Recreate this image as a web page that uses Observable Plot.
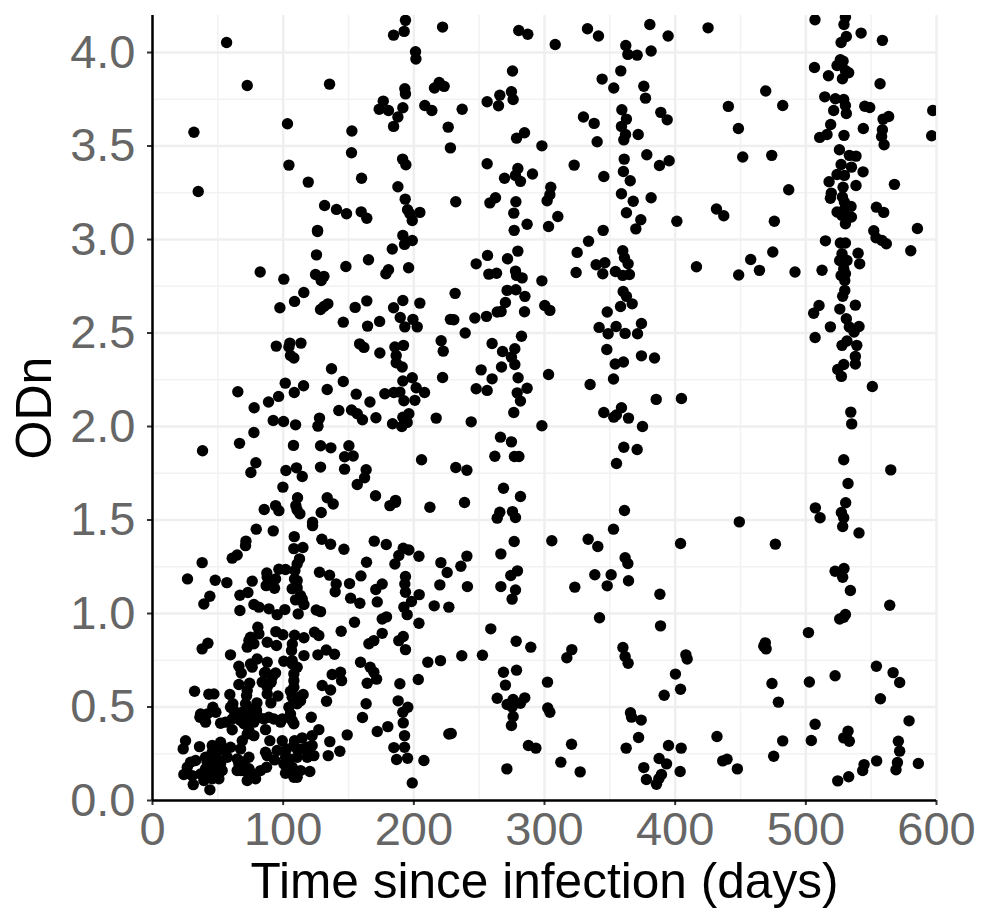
<!DOCTYPE html>
<html><head><meta charset="utf-8">
<script src="https://cdn.jsdelivr.net/npm/d3@7"></script>
<script src="https://cdn.jsdelivr.net/npm/@observablehq/plot@0.6"></script>
<style>html,body{margin:0;padding:0;background:#fff}svg{display:block}</style>
</head><body><div id="chart"></div>
<script>
const xMajor=[0,100,200,300,400,500,600];
const xMinor=[50,150,250,350,450,550];
const yMajor=[0,0.5,1,1.5,2,2.5,3,3.5,4];
const yMinor=[0.25,0.75,1.25,1.75,2.25,2.75,3.25,3.75];
const xTitle="Time since infection (days)";
const yTitle="ODn";

const earlyHigh=[[56.7,4.054],[72.5,3.824],[31.7,3.574],[35,3.257],[103.3,3.619],[104.4,3.398],[119.2,3.307],[135.5,3.831],[152.6,3.58],[152.3,3.464],[160,3.328],[131.7,3.182],[140.8,3.161],[148.5,3.138],[159.7,3.148],[164,3.114],[126.3,3.049],[187.8,3.282],[193.4,3.216],[195.2,3.159],[197,3.138],[198.8,3.102],[204.6,3.145],[191.4,3.43],[193.9,3.4],[184.5,3.605],[187.8,3.655],[191.6,3.705],[193.1,3.806],[193.6,3.779],[176.6,3.74],[173.5,3.697],[180.6,3.69],[208.4,3.717],[213.8,3.69],[215.8,3.81],[219.4,3.84],[223.2,3.819],[201.3,4.004],[201.6,3.965],[184.5,4.093],[192.6,4.113],[193.6,4.172],[222,4.136],[226.3,3.601],[228,3.49]];

const earlyMid=[[126.3,3.043],[125.5,2.918],[82.4,2.826],[100.5,2.788],[124.8,2.813],[129.1,2.781],[131.2,2.803],[148,2.856],[165.3,2.892],[191.6,3.022],[198.8,2.995],[192.9,2.974],[183.5,2.949],[178.6,2.817],[180.6,2.838],[196,2.849],[115.8,2.717],[108.7,2.669],[97.5,2.635],[128.6,2.626],[131.2,2.642],[134.2,2.656],[155.1,2.637],[164,2.672],[146,2.558],[164.6,2.537],[173.8,2.562],[191.6,2.674],[204.6,2.66],[184.5,2.635],[189.6,2.583],[199.3,2.573],[193.1,2.533],[202.6,2.533],[228,2.573],[94.7,2.43],[105.1,2.446],[113.6,2.446],[104.4,2.425],[105.6,2.38],[108.2,2.366],[158.5,2.442],[161.8,2.423],[174,2.393],[185.5,2.425],[192.1,2.434],[186.5,2.38],[186.5,2.341],[191.1,2.318],[220.9,2.459],[222.5,2.403],[222,2.262],[137,2.309],[146,2.241],[101.6,2.232],[115.6,2.218],[65.3,2.186],[108.5,2.182],[133.7,2.198],[96.5,2.161],[88.8,2.131],[77.8,2.1],[155.9,2.173],[166.4,2.131],[177.8,2.175],[184.7,2.182],[189.3,2.184],[191.6,2.243],[198.8,2.261],[201.8,2.207],[208.2,2.182],[192.4,2.138],[200.8,2.14],[142.6,2.086],[152.3,2.088],[156.7,2.068],[160.7,2.036],[171,2.047],[127.8,2.045],[126.6,2.002],[92.4,2.032],[100.3,2.027],[109.5,2.009],[183.7,2.015],[190.8,2],[191.6,2.05],[196.2,2.068],[194.9,2.022],[217.1,2.045],[77.6,1.968],[66.6,1.91],[38.3,1.87],[107.9,1.899],[128.6,1.897],[136.5,1.886],[150.3,1.897],[147,1.838],[153.6,1.842],[205.9,1.822],[79.1,1.806],[75.3,1.754],[102.1,1.765],[110.2,1.779],[114.6,1.733],[128.6,1.783],[147,1.772],[163.5,1.769],[162.3,1.726],[156.7,1.69],[99.8,1.676],[111,1.619],[170.7,1.63],[186,1.605],[133.7,1.619]];

const earlyLow=[[85.5,1.556],[94.2,1.577],[96.7,1.55],[109.7,1.577],[110.7,1.554],[112.8,1.533],[129.1,1.54],[138.3,1.586],[181.7,1.577],[186,1.595],[212.3,1.568],[122.5,1.488],[122.5,1.47],[79.4,1.451],[92.4,1.442],[108.5,1.411],[129.6,1.397],[136.3,1.37],[146.5,1.344],[169.7,1.387],[178.9,1.369],[71.5,1.387],[71.2,1.363],[64.8,1.313],[61,1.296],[38,1.272],[108.2,1.347],[115.1,1.353],[112.5,1.292],[110.7,1.265],[26.8,1.185],[48,1.178],[56.9,1.165],[76.3,1.173],[87.5,1.217],[96.7,1.237],[101.8,1.235],[109,1.23],[87,1.149],[93.4,1.135],[94.2,1.185],[108.7,1.185],[106.9,1.132],[110.7,1.137],[127.8,1.221],[135.5,1.205],[140.6,1.158],[139.8,1.116],[150.8,1.16],[159.5,1.201],[163.8,1.274],[170.9,1.128],[175.8,1.158],[151.6,1.082],[158.7,1.055],[172,1.062],[185.5,1.265],[188.5,1.31],[191.9,1.349],[196.2,1.34],[203.9,1.306],[220.7,1.272],[225.5,1.219],[219.9,1.153],[193.6,1.198],[193.1,1.158],[193.6,1.114],[204.1,1.101],[198.2,1.064],[192.4,1.034],[194.9,0.994],[215.6,1.041],[226.8,1.034],[43.9,1.092],[39.3,1.051],[66.9,1.098],[73,1.112],[66.9,1.016],[77.6,1.048],[81.4,1.034],[89.1,1.025],[95.4,0.994],[101.3,1.021],[111.5,0.998],[109.5,1.073],[114.6,1.078],[115.9,1.048],[125.3,1.019],[128.6,1.01],[154.6,0.953],[175.8,0.971],[179.1,0.982],[203.9,0.948],[144.4,0.905],[80.6,0.927],[81.4,0.891],[94.4,0.903],[99.8,0.886],[108.7,0.884],[115.9,0.87],[124,0.9],[127.3,0.882],[175.8,0.894],[169.4,0.855],[165.6,0.838],[191.9,0.877],[188.5,0.855],[193.6,0.807],[42.4,0.841],[38,0.811],[73.8,0.855],[77.6,0.838],[72.5,0.82],[87.8,0.846],[94.9,0.829],[107,0.837],[106.4,0.802],[59.7,0.779],[115.9,0.775],[133,0.805],[126.6,0.779],[139.3,0.782],[159.2,0.739],[166.6,0.713],[169.4,0.686],[171.5,0.649],[164.3,0.627],[189.3,0.624],[203.4,0.647],[210.7,0.739],[220.4,0.748],[80.1,0.757],[75,0.73],[87.8,0.739],[66.1,0.718],[67.9,0.682],[76.3,0.713],[100.5,0.745],[106.9,0.748],[110.7,0.713],[108.2,0.677],[85.7,0.682],[94.2,0.682],[84,0.633],[90.8,0.633],[66.1,0.62],[74.3,0.627],[108.2,0.641],[137.5,0.674],[143.9,0.686],[144.7,0.641],[129.9,0.615],[136.3,0.591],[133.2,0.531],[32.2,0.584],[43.1,0.568],[47,0.57],[59.2,0.567],[72,0.561],[87.8,0.57],[96,0.559],[105.6,0.584],[115.3,0.567],[113.3,0.534],[61.5,0.517],[79.9,0.522],[90.6,0.522],[46.2,0.499],[48.5,0.472],[36.3,0.445],[40.6,0.419],[66.1,0.463],[62.3,0.481],[75,0.445],[79.6,0.481],[85.2,0.436],[99.3,0.436],[105.6,0.463],[110.7,0.517],[121.5,0.445],[163.5,0.517],[160.7,0.444],[188,0.533],[195.4,0.499],[191.6,0.472],[191.9,0.415],[52.1,0.413],[61,0.378],[67.4,0.428],[73.8,0.374],[77.6,0.347],[86.5,0.379],[98,0.419],[108.2,0.41],[127.3,0.379],[149,0.351],[172,0.369],[180.1,0.395],[226.8,0.356],[192.9,0.347],[25.3,0.32],[23.5,0.276],[36,0.288],[52.1,0.312],[59.7,0.285],[45.7,0.294],[68.7,0.32],[89.8,0.32],[99.3,0.32],[108.7,0.32],[114.6,0.335],[122.2,0.347],[135.7,0.315],[67.4,0.276],[86.5,0.258],[102.6,0.276],[110.7,0.276],[118.4,0.285],[184.7,0.283],[192.9,0.285],[143.4,0.263],[134.5,0.24],[123.5,0.24],[186.8,0.219],[195.2,0.226],[207.7,0.214],[198.8,0.094],[29.1,0.205],[33,0.214],[26.6,0.178],[24,0.139],[30.4,0.133],[31.2,0.085],[43.9,0.057],[44.4,0.231],[49.5,0.222],[40.6,0.169],[47,0.178],[53.3,0.16],[39.3,0.107],[45.7,0.116],[50.8,0.116],[43.1,0.142],[57.2,0.231],[64.8,0.222],[69.9,0.205],[67.4,0.16],[73.8,0.17],[72.5,0.107],[78.9,0.116],[82.7,0.16],[87.3,0.178],[87.8,0.24],[93.4,0.217],[104.4,0.223],[110.7,0.231],[106.9,0.178],[101.8,0.146],[108.2,0.124],[113.3,0.16],[120.4,0.155],[45.7,0.258],[50.8,0.267],[41.9,0.205],[73.8,0.231],[66.1,0.196],[36.8,0.142],[89,0.445],[61,0.436],[55.9,0.419],[70,0.41],[106.9,0.427],[92.9,0.436]];

const denseExtras=[[108.2,0.606],[106.9,0.552],[104.4,0.499],[112,0.552],[87.8,0.606],[91.6,0.659],[71.2,0.517],[68.7,0.472],[75,0.49],[81.4,0.445],[73.8,0.41],[77.6,0.419],[72.5,0.356],[106.9,0.73],[75,0.873],[86.5,0.686],[72.5,0.588],[59.7,0.499],[36.8,0.463],[41.9,0.463],[45.7,0.249],[43.1,0.196],[40.6,0.231],[48.2,0.187],[52.1,0.196],[44.4,0.178],[41.9,0.124],[48.2,0.151],[54.6,0.276],[69.9,0.16],[76.3,0.142],[66.1,0.214],[64.8,0.16],[101.8,0.231],[108.2,0.294],[118.4,0.231],[114.6,0.276],[122.2,0.294],[95.4,0.267],[100.5,0.196],[104.4,0.16],[110.7,0.124],[110.7,1.176],[113.3,1.096],[87.8,1.194],[90.3,1.158]];

const midHigh=[[280.3,4.118],[287.2,4.098],[308.2,4.043],[332.9,4.127],[341.3,4.088],[380.6,4.15],[394.6,4.088],[362.2,4.038],[363.8,3.99],[370.9,3.986],[381.6,4.008],[275.5,3.901],[344.1,3.858],[358.4,3.902],[353,3.81],[376,3.82],[377.3,3.756],[265.8,3.772],[274.7,3.79],[276,3.749],[256.1,3.737],[264.8,3.715],[237,3.697],[284.7,3.571],[278.6,3.542],[298,3.501],[329.8,3.655],[338,3.621],[340.3,3.523],[359.2,3.694],[362.7,3.644],[358.9,3.605],[362,3.562],[360.7,3.533],[371.7,3.562],[389,3.68],[393.9,3.64],[256.1,3.405],[279.6,3.38],[269.4,3.328],[277.8,3.343],[281.6,3.311],[290.8,3.35],[322.7,3.398],[345.4,3.337],[361,3.43],[360.4,3.364],[365.6,3.314],[378.3,3.453],[388,3.396],[395.4,3.421],[232.1,3.202],[258.2,3.196],[262.5,3.223],[278.1,3.202],[276.5,3.141],[304.8,3.28],[304.1,3.239],[302,3.207],[310.2,3.123],[303.1,3.07],[286.7,3.082],[276.8,3.049],[358.9,3.245],[367.9,3.205],[381.6,3.223],[362.7,3.143],[373.7,3.106],[369.9,3.057],[401.3,3.098],[344.9,3.049],[333.7,2.991],[325,2.931],[324.2,2.824],[279.6,2.938],[256.4,2.915],[271.7,2.897],[247.7,2.87],[257.4,2.815],[263.3,2.82],[277.8,2.831],[278.6,2.808],[282.9,2.795],[298,2.779],[359.9,2.94],[361.2,2.902],[364,2.87],[339.5,2.865],[346.2,2.876],[344.6,2.817],[354.3,2.829],[359.9,2.808],[365,2.813],[416.3,2.854],[231.6,2.712],[271.4,2.728],[278.1,2.731],[285,2.696],[270.1,2.663],[300.2,2.647],[304.1,2.621],[284.7,2.614],[266.8,2.615],[263.8,2.612],[255.6,2.589],[246.7,2.58],[230.6,2.571],[360.2,2.722],[362.7,2.696],[367.1,2.656],[358.2,2.642],[348,2.612],[374.2,2.551],[354.8,2.535],[341.8,2.53],[348.7,2.496],[361.7,2.498],[371.2,2.496],[239.3,2.5],[282.4,2.483],[259.9,2.444],[267.9,2.401],[277.3,2.416],[274.7,2.371],[277.3,2.332],[267.1,2.318],[251.5,2.303],[259.9,2.255],[279.8,2.261],[303.1,2.278],[247.7,2.202],[256.1,2.193],[279.1,2.18],[286.7,2.205],[281.6,2.136],[347.7,2.412],[354.1,2.334],[360.4,2.345],[374.2,2.378],[384.2,2.366],[352.8,2.254],[334.9,2.225],[385.5,2.145],[404.8,2.15]];

const midLow=[[276.5,2.075],[243.9,2.025],[298,2.004],[345.4,2.075],[358.9,2.1],[353,2.05],[355,2.062],[364.3,2.045],[375,2],[266.3,1.943],[274.7,1.918],[262,1.841],[277,1.84],[280.4,1.84],[232.1,1.781],[240.6,1.766],[360.7,1.889],[370.9,1.877],[355.1,1.802],[268.6,1.67],[281.6,1.626],[238.8,1.594],[265.8,1.542],[263.8,1.51],[275.5,1.545],[277.8,1.513],[361.2,1.551],[352.8,1.451],[333.4,1.397],[340.8,1.358],[305.6,1.389],[276.8,1.385],[266.6,1.319],[404.1,1.374],[240.6,1.307],[236,1.253],[241,1.144],[279.3,1.228],[274.2,1.203],[266.6,1.144],[277.8,1.126],[275.2,1.077],[361.7,1.298],[363.8,1.267],[338.5,1.207],[351,1.207],[348,1.148],[364.3,1.175],[323.2,1.141],[388.3,1.103],[342.1,0.977],[388.8,0.934],[258.9,0.918],[278.3,0.852],[289.5,0.82],[236.7,0.774],[252.5,0.777],[320.9,0.807],[317.1,0.763],[360,0.818],[361.7,0.77],[364,0.734],[408.2,0.779],[409.2,0.757],[400.2,0.676],[404.1,0.595],[391.6,0.563],[268.6,0.686],[278.6,0.697],[270.1,0.617],[302.3,0.633],[263.8,0.547],[276,0.54],[284.9,0.549],[271.4,0.513],[281.6,0.52],[275.2,0.5],[302.5,0.495],[304.1,0.472],[276,0.449],[274.7,0.401],[365.8,0.469],[366.6,0.446],[374,0.43],[228.6,0.358],[372,0.337],[287.7,0.294],[293.4,0.28],[320.7,0.301],[362.5,0.28],[394.9,0.294],[404.6,0.28],[387.7,0.225],[393.4,0.196],[376,0.176],[403.8,0.155],[312.5,0.205],[327.3,0.153],[271.2,0.169],[389.5,0.139],[387.5,0.116],[378,0.112],[385.7,0.087]];

const lateHigh=[[425.2,4.132],[507,4.175],[530.3,4.189],[529.2,4.15],[542.3,4.104],[558.6,4.065],[531,4.086],[527,4.054],[506.6,3.92],[526.4,3.961],[523.9,3.931],[528.5,3.954],[532.8,3.892],[517.3,3.876],[528,3.86],[530.3,3.904],[556.8,3.833],[469.3,3.794],[440.7,3.712],[482.3,3.717],[514.5,3.763],[522.6,3.753],[529,3.749],[521.3,3.69],[531,3.674],[530.3,3.717],[545.1,3.713],[548.9,3.706],[563.4,3.658],[559.1,3.644],[597.1,3.69],[448.4,3.594],[519,3.615],[516.2,3.562],[510.6,3.546],[529.2,3.557],[544,3.594],[558.6,3.587],[558,3.551],[559.9,3.507],[596.3,3.555],[451.7,3.441],[473.9,3.45],[525.7,3.48],[533.3,3.45],[538.4,3.446],[527,3.401],[534.9,3.387],[543.8,3.362],[523.9,3.348],[529.5,3.343],[517.8,3.309],[538.4,3.289],[567.8,3.295],[486.9,3.266],[528.5,3.28],[519.5,3.248],[518.8,3.221],[528,3.227],[529.5,3.2],[534.6,3.177],[523.9,3.147],[529,3.155],[534.9,3.12],[530.3,3.084],[527.7,3.129],[431.6,3.163],[437.2,3.127],[475.9,3.098],[554,3.173],[559.6,3.145],[585.4,3.059],[552,3.047],[553.7,3.009],[561.6,2.977],[558.3,2.995],[580.3,2.94],[515,2.993],[526.4,2.981],[530.3,2.981],[474.7,2.933],[457.8,2.893],[464.5,2.835],[448.6,2.81],[491.7,2.826],[512.4,2.836],[540,2.927],[541.2,2.87],[527.7,2.924],[525.9,2.888],[531.5,2.888],[529,2.843],[527,2.808],[530.3,2.817],[529.8,2.781],[529.8,2.728],[528.2,2.697],[537.9,2.649],[510.1,2.647],[506,2.606],[526,2.628],[531,2.576],[518.8,2.533],[540.7,2.535],[533.3,2.532],[536.9,2.505],[507.1,2.476],[531.5,2.457],[527.7,2.434],[539,2.434],[537.9,2.375],[537.9,2.334],[529,2.332],[524.4,2.305],[527.2,2.268],[550.9,2.214]];

const lateLow=[[534.4,2.077],[535.1,2.014],[529,1.822],[565,1.768],[532.3,1.695],[530.5,1.592],[507.3,1.565],[510.9,1.512],[527.2,1.54],[529,1.512],[528.2,1.465],[540.7,1.431],[449.1,1.49],[476.7,1.371],[522.4,1.226],[529.2,1.241],[528.2,1.194],[534.1,1.123],[564.2,1.044],[530.3,0.995],[525.9,0.971],[529,0.98],[502,0.898],[469,0.843],[467.8,0.825],[469.6,0.811],[554,0.718],[566.8,0.684],[571.8,0.631],[522.4,0.667],[502.7,0.634],[474.1,0.626],[479,0.526],[557.1,0.544],[507.1,0.408],[579,0.426],[432,0.342],[482.3,0.319],[504.2,0.321],[532.3,0.371],[529,0.335],[533.3,0.317],[570.8,0.317],[571.8,0.264],[475.4,0.237],[439.7,0.221],[436.4,0.212],[447.6,0.169],[554.2,0.212],[570.1,0.203],[586.1,0.198],[569,0.164],[544.6,0.192],[543.5,0.16],[532.8,0.127],[524.4,0.105]];

const points=[...earlyHigh,...earlyMid,...earlyLow,...denseExtras,...midHigh,...midLow,...lateHigh,...lateLow];

const chart=Plot.plot({
  width:993,height:912,
  marginLeft:152,marginRight:57,marginTop:15,marginBottom:112,
  style:{fontFamily:"'Liberation Sans',Arial,sans-serif",background:"#fff",overflow:"visible"},
  x:{domain:[0,600]},
  y:{domain:[0,4.198]},
  marks:[
    Plot.ruleX(xMinor,{stroke:"#f2f2f2",strokeWidth:1.5}),
    Plot.ruleY(yMinor,{stroke:"#f2f2f2",strokeWidth:1.5}),
    Plot.ruleX(xMajor,{stroke:"#efefef",strokeWidth:2.5}),
    Plot.ruleY(yMajor,{stroke:"#efefef",strokeWidth:2.5}),
    Plot.dot(points,{x:d=>d[0],y:d=>d[1],r:5.7,fill:"#000",stroke:"none",clip:true}),
    Plot.axisX(xMajor,{label:null,tickSize:5,tickPadding:6,stroke:"#333",color:"#666",strokeWidth:2,fontSize:47,tickFormat:d=>String(d)}),
    Plot.axisY(yMajor,{label:null,tickSize:5,tickPadding:12,stroke:"#333",color:"#666",strokeWidth:2,fontSize:47,tickFormat:d=>d.toFixed(1)}),
    Plot.ruleX([0],{stroke:"#000",strokeWidth:2.5}),
    Plot.ruleY([0],{stroke:"#000",strokeWidth:2.5}),
    Plot.text([xTitle],{text:d=>d,frameAnchor:"bottom",dy:97,fontSize:49.6,fill:"#000"}),
    Plot.text([yTitle],{text:d=>d,frameAnchor:"left",textAnchor:"middle",rotate:-90,dx:-118,fontSize:50,fill:"#000"})
  ]
});
document.getElementById("chart").appendChild(chart);
</script></body></html>
